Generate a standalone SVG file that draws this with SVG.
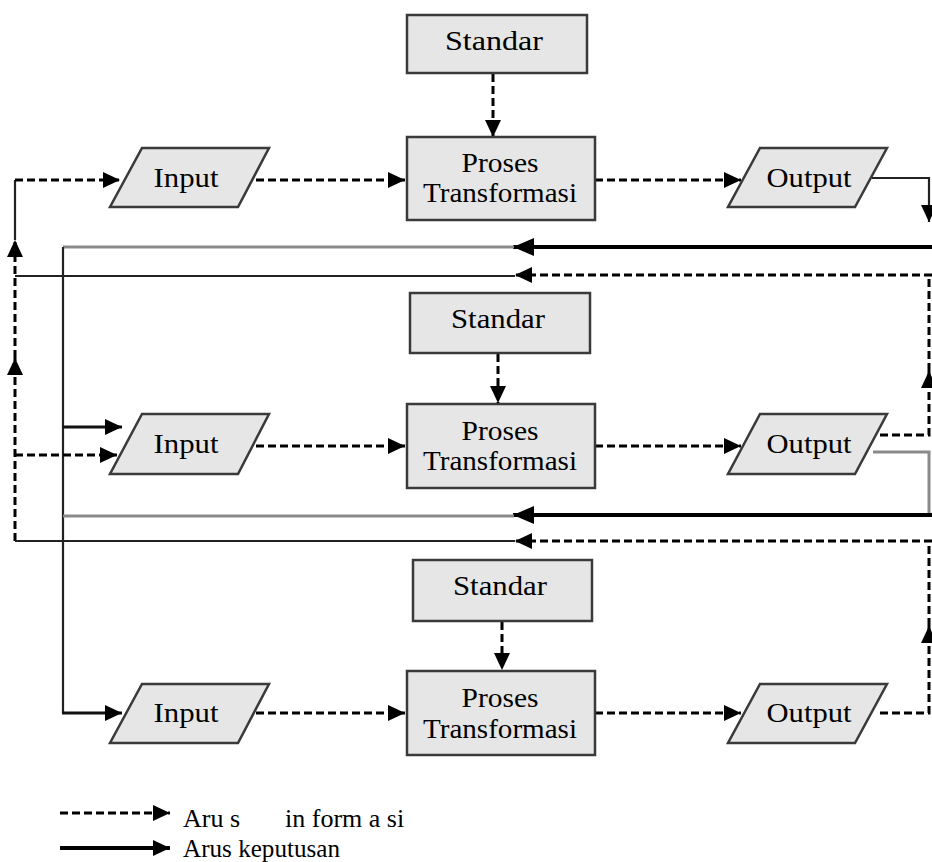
<svg xmlns="http://www.w3.org/2000/svg" width="932" height="862" viewBox="0 0 932 862">
<defs>
<marker id="ah" markerUnits="userSpaceOnUse" markerWidth="18" markerHeight="16" refX="17" refY="8" orient="auto">
<path d="M0,0 L17,8 L0,16 Z" fill="#000"/>
</marker>
<marker id="ahb" markerUnits="userSpaceOnUse" markerWidth="22" markerHeight="18" refX="21" refY="9" orient="auto">
<path d="M0,0 L21,9 L0,18 Z" fill="#000"/>
</marker>
</defs>
<style>
.box{fill:#e6e6e6;stroke:#3a3a3a;stroke-width:2.5}
.t{font-family:"Liberation Serif","Times New Roman",serif;font-size:27px;fill:#000;text-anchor:middle}
.lg{font-family:"Liberation Serif","Times New Roman",serif;font-size:26px;fill:#000}
.d{fill:none;stroke:#000;stroke-width:3;stroke-dasharray:8,4}
.s{fill:none;stroke:#222;stroke-width:2.2}
.sa{fill:none;stroke:#111;stroke-width:3}
.g{fill:none;stroke:#8a8a8a;stroke-width:3}
.k{fill:none;stroke:#000;stroke-width:4}
</style>
<rect width="932" height="862" fill="#fff"/>

<g id="connectors">
<!-- level 1 -->
<path class="d" d="M15,541 V358" marker-end="url(#ah)"/>
<path class="d" d="M15,358 V240" marker-end="url(#ah)"/>
<path class="s" d="M15,240 V180"/>
<path class="d" d="M15,180 H120" marker-end="url(#ah)"/>
<path class="d" d="M256,180 H405" marker-end="url(#ah)"/>
<path class="d" d="M595,180 H741" marker-end="url(#ah)"/>
<path class="d" d="M493,74 V137" marker-end="url(#ah)"/>
<path class="s" d="M872,178 H929 V222" marker-end="url(#ah)"/>
<path class="k" d="M932,247 H513" marker-end="url(#ahb)"/>
<path class="g" d="M514,247 H63"/>
<path class="s" d="M63,247 V713"/>
<path class="sa" d="M62,713 H122" marker-end="url(#ah)"/>
<path class="sa" d="M63,427 H122" marker-end="url(#ah)"/>
<path class="d" d="M932,275 H515" marker-end="url(#ah)"/>
<path class="s" d="M515,276 H15"/>
<!-- level 2 -->
<path class="d" d="M498,354 V403" marker-end="url(#ah)"/>
<path class="d" d="M15,455 H117" marker-end="url(#ah)"/>
<path class="d" d="M256,446 H405" marker-end="url(#ah)"/>
<path class="d" d="M595,446 H741" marker-end="url(#ah)"/>
<path class="d" d="M880,435 H929 V371" marker-end="url(#ah)"/>
<path class="d" d="M929,371 V276"/>
<path class="g" d="M873,452 H929 V515"/>
<path class="k" d="M932,515 H513" marker-end="url(#ahb)"/>
<path class="g" d="M514,516 H63"/>
<path class="d" d="M932,541 H515" marker-end="url(#ah)"/>
<path class="s" d="M515,541 H15"/>
<!-- level 3 -->
<path class="d" d="M502,622 V670" marker-end="url(#ah)"/>
<path class="d" d="M256,713 H405" marker-end="url(#ah)"/>
<path class="d" d="M595,713 H741" marker-end="url(#ah)"/>
<path class="d" d="M880,713 H929 V626" marker-end="url(#ah)"/>
<path class="d" d="M929,626 V542"/>
<!-- legend -->
<path class="d" d="M60,813 H170" marker-end="url(#ah)"/>
<path class="k" d="M60,848 H170" marker-end="url(#ah)"/>
</g>

<g id="standar1"><rect class="box" x="407" y="15" width="180" height="58"/><text class="t" x="494" y="50" textLength="98" lengthAdjust="spacingAndGlyphs">Standar</text></g>
<g id="proses1"><rect class="box" x="407" y="137" width="188" height="83"/><text class="t" x="500" y="172" textLength="77" lengthAdjust="spacingAndGlyphs">Proses</text><text class="t" x="500" y="202" textLength="154" lengthAdjust="spacingAndGlyphs">Transformasi</text></g>
<g id="input1"><polygon class="box" points="142,148 269,148 238,207 110,207"/><text class="t" x="186" y="187" textLength="65" lengthAdjust="spacingAndGlyphs">Input</text></g>
<g id="output1"><polygon class="box" points="760,148 887,148 855,207 728,207"/><text class="t" x="809" y="187" textLength="85" lengthAdjust="spacingAndGlyphs">Output</text></g>

<g id="standar2"><rect class="box" x="410" y="293" width="180" height="60"/><text class="t" x="498" y="328" textLength="94" lengthAdjust="spacingAndGlyphs">Standar</text></g>
<g id="proses2"><rect class="box" x="407" y="404" width="188" height="84"/><text class="t" x="500" y="440" textLength="77" lengthAdjust="spacingAndGlyphs">Proses</text><text class="t" x="500" y="470" textLength="154" lengthAdjust="spacingAndGlyphs">Transformasi</text></g>
<g id="input2"><polygon class="box" points="142,414 269,414 238,474 110,474"/><text class="t" x="186" y="453" textLength="65" lengthAdjust="spacingAndGlyphs">Input</text></g>
<g id="output2"><polygon class="box" points="760,414 887,414 855,474 728,474"/><text class="t" x="809" y="453" textLength="85" lengthAdjust="spacingAndGlyphs">Output</text></g>

<g id="standar3"><rect class="box" x="413" y="560" width="179" height="61"/><text class="t" x="500" y="595" textLength="94" lengthAdjust="spacingAndGlyphs">Standar</text></g>
<g id="proses3"><rect class="box" x="407" y="671" width="188" height="84"/><text class="t" x="500" y="707" textLength="77" lengthAdjust="spacingAndGlyphs">Proses</text><text class="t" x="500" y="738" textLength="154" lengthAdjust="spacingAndGlyphs">Transformasi</text></g>
<g id="input3"><polygon class="box" points="142,684 269,684 238,743 110,743"/><text class="t" x="186" y="722" textLength="65" lengthAdjust="spacingAndGlyphs">Input</text></g>
<g id="output3"><polygon class="box" points="760,684 887,684 855,743 728,743"/><text class="t" x="809" y="722" textLength="85" lengthAdjust="spacingAndGlyphs">Output</text></g>

<g id="legend">
<text class="lg" x="183" y="827">Aru s</text>
<text class="lg" x="285" y="827">in form a si</text>
<text class="lg" x="183" y="857" textLength="157" lengthAdjust="spacingAndGlyphs">Arus keputusan</text>
</g>
</svg>
